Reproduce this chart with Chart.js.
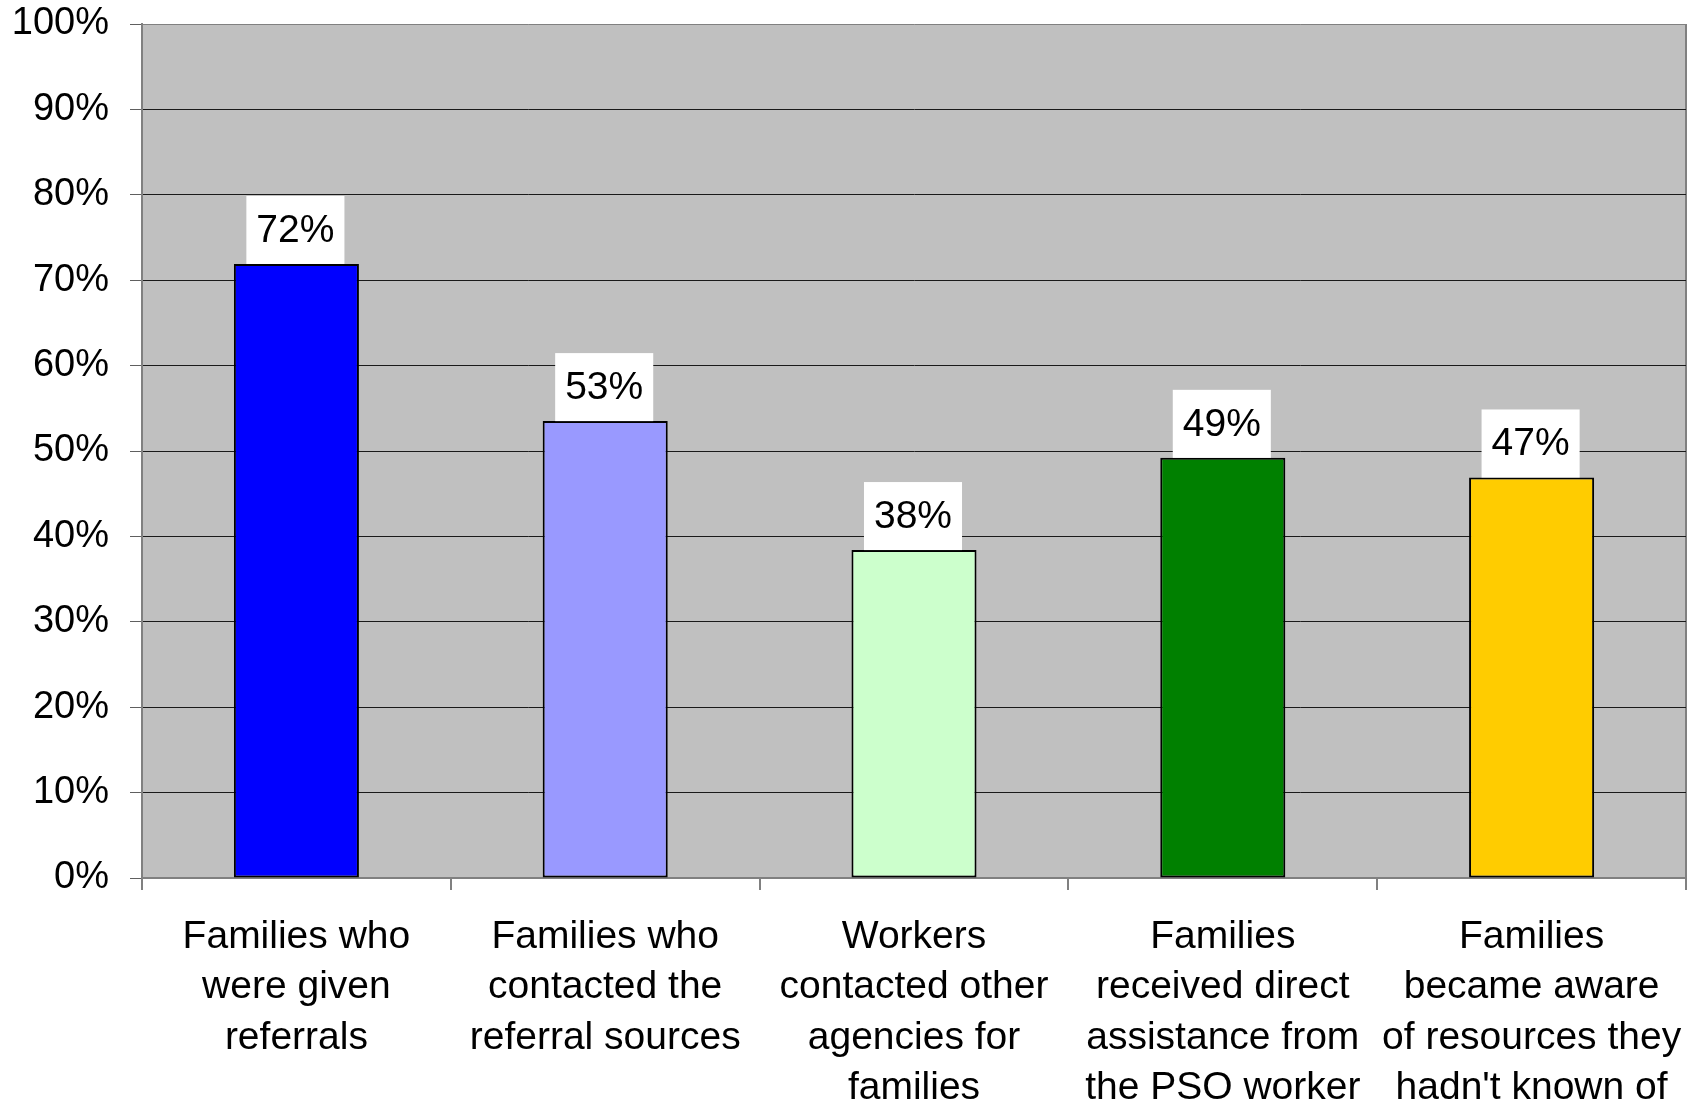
<!DOCTYPE html>
<html>
<head>
<meta charset="utf-8">
<script src="https://cdn.jsdelivr.net/npm/chart.js@4/dist/chart.umd.min.js"></script>
<style>
  html, body { margin: 0; padding: 0; background: #fff; }
  #wrap { width: 1700px; height: 1100px; }
</style>
</head>
<body>
<div id="wrap"><canvas id="chart" width="1700" height="1100"></canvas></div>
<script>
const categories = [
  ['Families who', 'were given', 'referrals'],
  ['Families who', 'contacted the', 'referral sources'],
  ['Workers', 'contacted other', 'agencies for', 'families'],
  ['Families', 'received direct', 'assistance from', 'the PSO worker'],
  ['Families', 'became aware', 'of resources they', "hadn't known of"],
];
const values = [71.9, 53.5, 38.4, 49.2, 46.9];
const valueLabels = ['72%', '53%', '38%', '49%', '47%'];
const barColors = ['#0000FF', '#9999FF', '#CCFFCC', '#008000', '#FFCC00'];

const FONT = '"Liberation Sans", Arial, sans-serif';

// grey plot area plus right-hand frame line
const plotBg = {
  id: 'plotBg',
  beforeDraw(chart) {
    const { ctx, chartArea: a } = chart;
    ctx.save();
    ctx.fillStyle = '#C0C0C0';
    ctx.fillRect(a.left, a.top, a.right - a.left, a.bottom - a.top);
    ctx.strokeStyle = '#808080';
    ctx.lineWidth = 2;
    ctx.beginPath();
    ctx.moveTo(a.right, a.top);
    ctx.lineTo(a.right, a.bottom);
    ctx.stroke();
    ctx.restore();
  },
};

// white boxed value labels sitting on top of each bar
const boxLabels = {
  id: 'boxLabels',
  afterDatasetsDraw(chart) {
    const { ctx } = chart;
    const meta = chart.getDatasetMeta(0);
    ctx.save();
    ctx.font = '39px ' + FONT;
    ctx.textAlign = 'center';
    ctx.textBaseline = 'middle';
    meta.data.forEach((bar, i) => {
      const txt = valueLabels[i];
      const w = ctx.measureText(txt).width + 20;
      const h = 68;
      const x = bar.x - 1;
      ctx.fillStyle = '#fff';
      ctx.fillRect(x - w / 2, bar.y - h, w, h);
      ctx.fillStyle = '#000';
      ctx.fillText(txt, x, bar.y - h / 2 + 1);
    });
    ctx.restore();
  },
};

new Chart(document.getElementById('chart'), {
  type: 'bar',
  data: {
    labels: categories,
    datasets: [{
      data: values,
      backgroundColor: barColors,
      borderColor: '#000',
      borderWidth: 2,
      borderSkipped: false,
      barPercentage: 0.405,
      categoryPercentage: 1,
    }],
  },
  options: {
    responsive: false,
    animation: false,
    devicePixelRatio: 1,
    layout: { padding: { top: 24, right: 14, left: 0, bottom: 0 } },
    plugins: {
      legend: { display: false },
      tooltip: { enabled: false },
    },
    scales: {
      x: {
        grid: {
          offset: true,
          drawOnChartArea: false,
          drawTicks: true,
          tickLength: 12,
          color: '#808080',
          lineWidth: 2,
        },
        border: { color: '#808080', width: 2 },
        ticks: {
          color: '#000',
          padding: 22,
          maxRotation: 0,
          autoSkip: false,
          font: { family: FONT, size: 39, lineHeight: 1.29 },
        },
        afterFit(scale) {
          scale.height = 222;
          scale.paddingLeft = 0;
          scale.paddingRight = 0;
        },
      },
      y: {
        min: 0,
        max: 100,
        grid: {
          color: ctx => (ctx.tick && (ctx.tick.value === 0 || ctx.tick.value === 100)) ? '#808080' : '#1a1a1a',
          lineWidth: 1,
          tickLength: 12,
          tickColor: '#606060',
        },
        border: { color: '#808080', width: 2 },
        ticks: {
          stepSize: 10,
          color: '#000',
          padding: 21,
          font: { family: FONT, size: 38, lineHeight: 0.5 },
          callback: v => v + '%',
        },
        afterFit(scale) {
          scale.width = 142;
          scale.paddingTop = 0;
          scale.paddingBottom = 0;
        },
      },
    },
  },
  plugins: [plotBg, boxLabels],
});
</script>
</body>
</html>
